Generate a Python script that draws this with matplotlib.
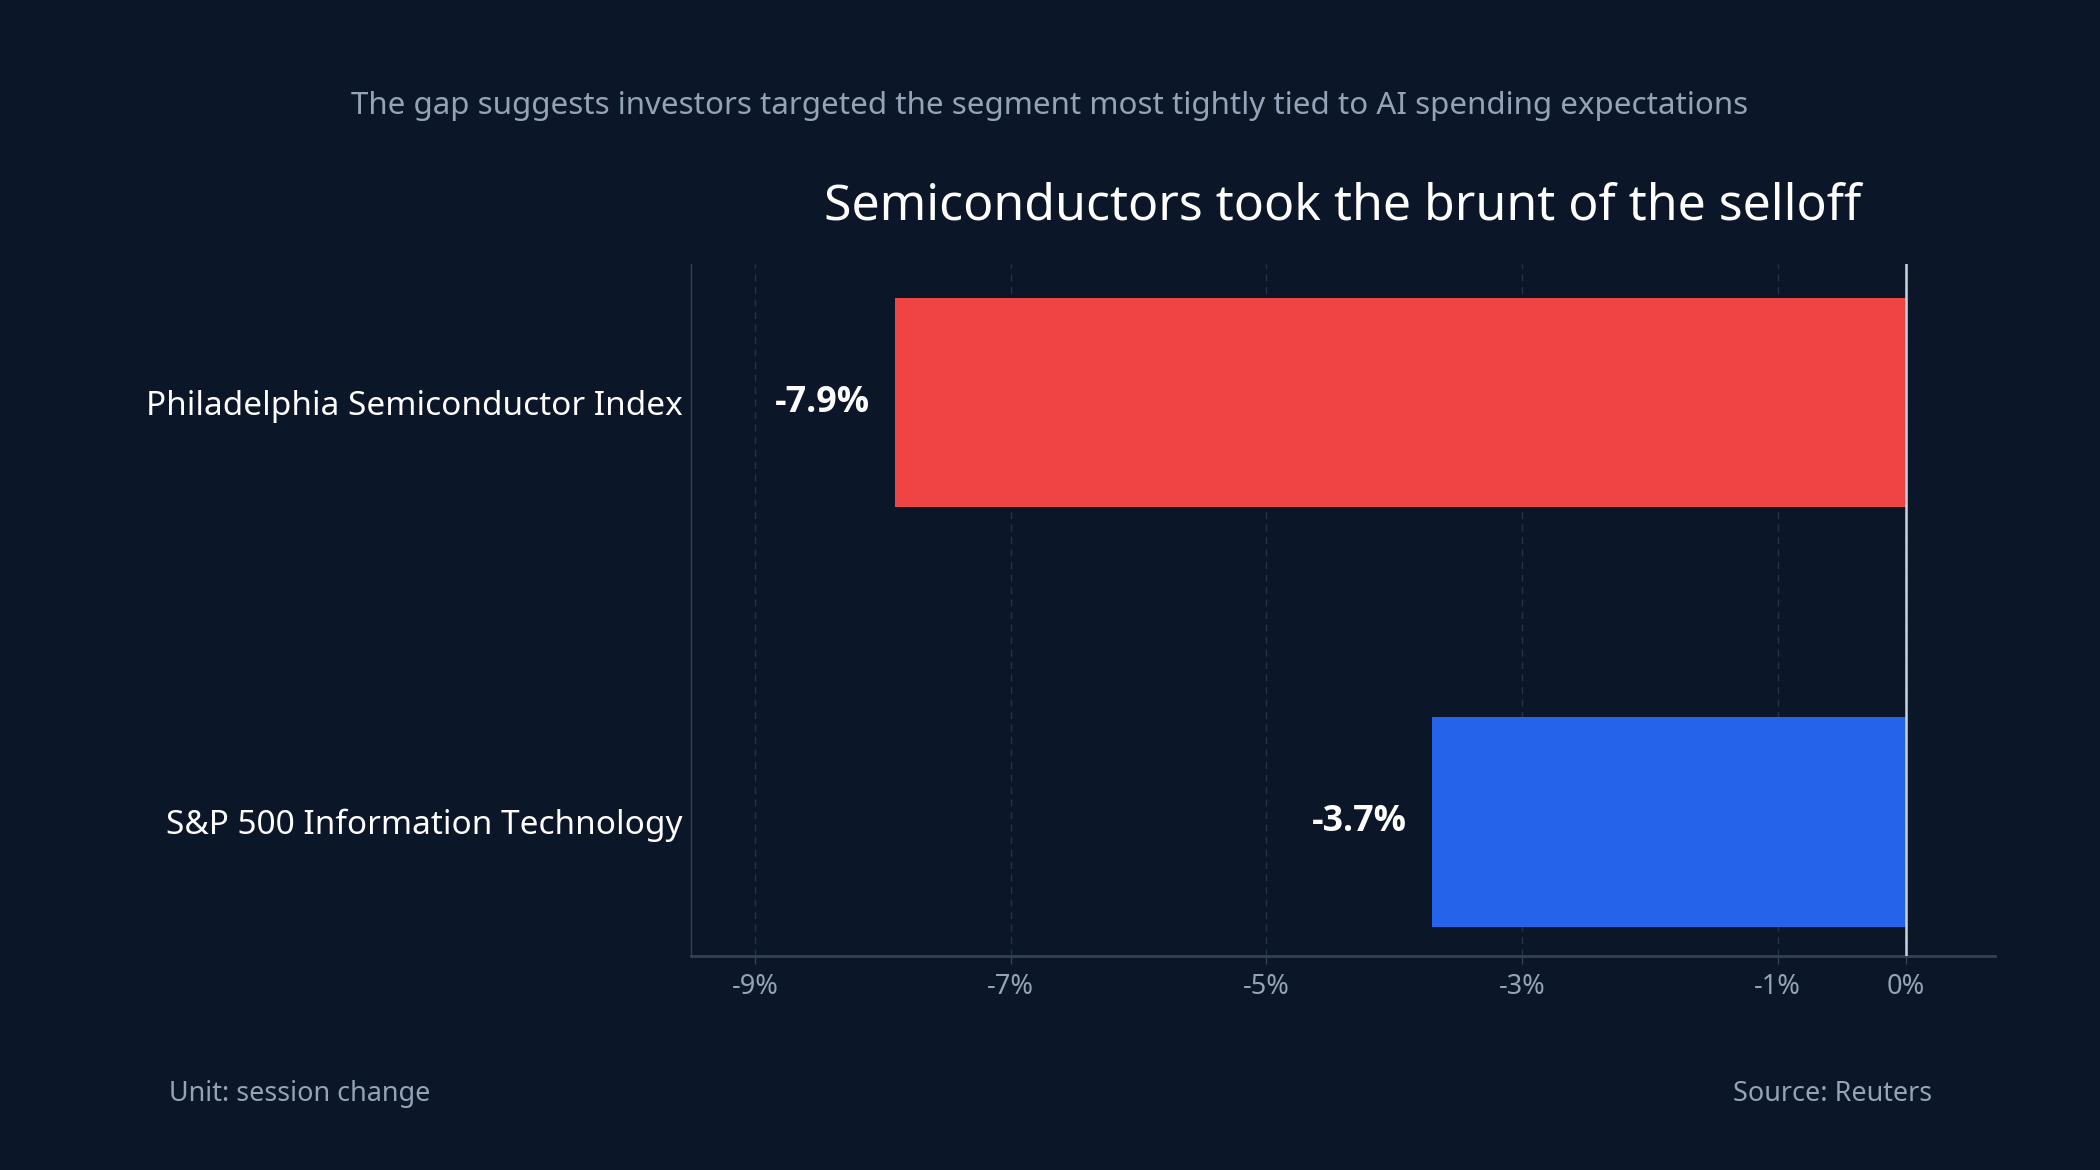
import matplotlib.pyplot as plt

plt.rcParams['font.family'] = ['Noto Sans', 'DejaVu Sans']

categories = ['S&P 500 Information Technology', 'Philadelphia Semiconductor Index']
values = [-3.7, -7.9]
colors = ['#2563eb', '#ef4444']
ticks = [-9, -7, -5, -3, -1, 0]
tick_labels = ['-9%', '-7%', '-5%', '-3%', '-1%', '0%']

bg = '#0b1628'
grey = '#94a3b8'

fig = plt.figure(figsize=(21, 11.7), dpi=100, facecolor=bg)
ax = fig.add_axes([0.329, 0.183, 0.621, 0.591], facecolor=bg)

ypos = list(range(len(categories)))
ax.barh(ypos, values, height=0.5, color=colors, zorder=3)
ax.set_xlim(-9.5, 0.7)
ax.set_ylim(-0.32, 1.33)

for x in ticks:
    ax.axvline(x, color='#243247', lw=1, ls=(0, (5, 4)), zorder=1)
ax.axvline(0, color='#cbd5e1', lw=1.8, zorder=4)

for y, v in zip(ypos, values):
    ax.text(v - 0.2, y, f'{v:.1f}%', ha='right', va='center',
            color='white', fontsize=25.8, fontweight='bold',
            family=['Open Sans', 'Noto Sans', 'DejaVu Sans'])

ax.set_xticks(ticks)
ax.set_xticklabels(tick_labels)
ax.set_yticks(ypos)
ax.set_yticklabels(categories)
ax.tick_params(axis='x', colors='#334155', labelcolor=grey, labelsize=19.5,
               length=6, width=1, pad=6)
ax.tick_params(axis='y', length=0, labelcolor='white', labelsize=24, pad=6)

for s in ['top', 'right']:
    ax.spines[s].set_visible(False)
ax.spines['left'].set_color('#334155')
ax.spines['left'].set_linewidth(1)
ax.spines['bottom'].set_color('#334155')
ax.spines['bottom'].set_linewidth(2)

ax.set_title('Semiconductors took the brunt of the selloff', color='white',
             fontsize=36, pad=32)
fig.text(0.5, 0.9095, 'The gap suggests investors targeted the segment most tightly tied to AI spending expectations',
         ha='center', va='center', color=grey, fontsize=22.5)
fig.text(0.0805, 0.0646, 'Unit: session change', ha='left', va='center', color=grey, fontsize=19.4)
fig.text(0.92, 0.0646, 'Source: Reuters', ha='right', va='center', color=grey, fontsize=19.4)

fig.savefig('out.png', facecolor=bg)
